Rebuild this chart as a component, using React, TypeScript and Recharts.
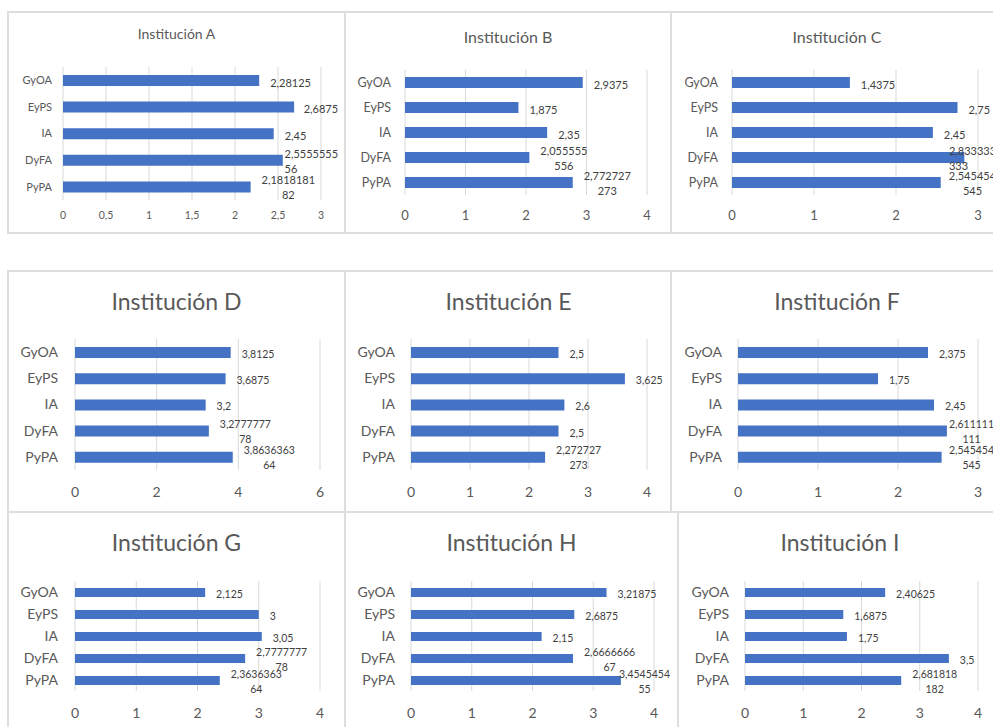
import React from 'react';
import { BarChart, Bar, XAxis, YAxis, CartesianGrid, LabelList } from 'recharts';

const categories = ['GyOA', 'EyPS', 'IA', 'DyFA', 'PyPA'];

const instA = [2.28125, 2.6875, 2.45, 2.555555556, 2.181818182];
const instB = [2.9375, 1.875, 2.35, 2.055555556, 2.772727273];
const instC = [1.4375, 2.75, 2.45, 2.833333333, 2.545454545];
const instD = [3.8125, 3.6875, 3.2, 3.277777778, 3.863636364];
const instE = [2.5, 3.625, 2.6, 2.5, 2.272727273];
const instF = [2.375, 1.75, 2.45, 2.611111111, 2.545454545];
const instG = [2.125, 3, 3.05, 2.777777778, 2.363636364];
const instH = [3.21875, 2.6875, 2.15, 2.666666667, 3.454545455];
const instI = [2.40625, 1.6875, 1.75, 3.5, 2.681818182];

const ticksHalf = [0, 0.5, 1, 1.5, 2, 2.5, 3];
const ticks3 = [0, 1, 2, 3];
const ticks4 = [0, 1, 2, 3, 4];
const ticks6 = [0, 2, 4, 6];

const BLUE = '#4472C4';
const GRID = '#d9d9d9';
const TEXT = '#595959';
const VALUE = '#404040';
const FONT = "Lato, 'Open Sans', sans-serif";

type Panel = {
  title: string;
  values: number[];
  ticks: number[];
  box: { x: number; y: number; w: number };
  plot: { left: number; right: number; top: number; bottom: number };
  titleY: number;
  tickY: number;
  fonts: { title: number; cat: number; tick: number; value: number };
  catGap: number;
  barSize: number;
  wrap: number;
  labelRight: number;
  startAligned?: number[];
};

const small = { title: 14, cat: 11, tick: 10.5, value: 11 };
const medium = { title: 16, cat: 12.5, tick: 13, value: 11 };
const large = { title: 23, cat: 14, tick: 14, value: 10.5 };

const panels: Panel[] = [
  { title: 'Institución A', values: instA, ticks: ticksHalf, box: { x: 8, y: 11, w: 337 }, plot: { left: 63, right: 321, top: 67, bottom: 200 }, titleY: 35, tickY: 215, fonts: small, catGap: 11, barSize: 11, wrap: 9, labelRight: 338, startAligned: [3] },
  { title: 'Institución B', values: instB, ticks: ticks4, box: { x: 345, y: 11, w: 326 }, plot: { left: 405, right: 647, top: 70, bottom: 195 }, titleY: 37, tickY: 215, fonts: medium, catGap: 14, barSize: 11, wrap: 8, labelRight: 668 },
  { title: 'Institución C', values: instC, ticks: ticks3, box: { x: 672, y: 11, w: 330 }, plot: { left: 732, right: 978, top: 70, bottom: 195 }, titleY: 37, tickY: 215, fonts: medium, catGap: 14, barSize: 11, wrap: 8, labelRight: 996, startAligned: [3] },
  { title: 'Institución D', values: instD, ticks: ticks6, box: { x: 8, y: 271, w: 337 }, plot: { left: 75, right: 320, top: 339, bottom: 470 }, titleY: 302, tickY: 492, fonts: large, catGap: 17, barSize: 11, wrap: 9, labelRight: 340 },
  { title: 'Institución E', values: instE, ticks: ticks4, box: { x: 345, y: 271, w: 327 }, plot: { left: 411, right: 647, top: 339, bottom: 470 }, titleY: 302, tickY: 492, fonts: large, catGap: 16, barSize: 11, wrap: 8, labelRight: 668 },
  { title: 'Institución F', values: instF, ticks: ticks3, box: { x: 672, y: 271, w: 330 }, plot: { left: 738, right: 978, top: 339, bottom: 470 }, titleY: 302, tickY: 492, fonts: large, catGap: 16, barSize: 11, wrap: 8, labelRight: 994 },
  { title: 'Institución G', values: instG, ticks: ticks4, box: { x: 8, y: 512, w: 337 }, plot: { left: 75, right: 320, top: 581, bottom: 691 }, titleY: 543, tickY: 713, fonts: large, catGap: 17, barSize: 9, wrap: 9, labelRight: 340 },
  { title: 'Institución H', values: instH, ticks: ticks4, box: { x: 345, y: 512, w: 333 }, plot: { left: 411, right: 654, top: 581, bottom: 691 }, titleY: 543, tickY: 713, fonts: large, catGap: 16, barSize: 9, wrap: 9, labelRight: 670 },
  { title: 'Institución I', values: instI, ticks: ticks4, box: { x: 678, y: 512, w: 324 }, plot: { left: 745, right: 978, top: 581, bottom: 691 }, titleY: 543, tickY: 713, fonts: large, catGap: 16, barSize: 9, wrap: 8, labelRight: 997 },
];

// panel frame lines: [left, top, width, height]
const frameLines: number[][] = [
  [8, 11, 994, 2], [8, 232, 994, 2], [8, 270, 994, 2], [8, 511, 994, 2],
  [7, 11, 2, 223], [344, 11, 2, 223], [670, 11, 2, 223],
  [7, 270, 2, 457], [344, 270, 2, 457], [670, 270, 2, 243], [677, 511, 2, 216],
];

const fmt = (v: number) => String(v).replace('.', ',');

// rough Lato advance widths: digits are tabular, the comma is narrow
const textWidth = (s: string, size: number) =>
  s.split('').reduce((sum, ch) => sum + (ch === ',' ? 0.22 : 0.58), 0) * size;

// value label beside the bar end; long numbers wrap onto a second line and
// the block is pushed back inside the chart area when it would run past it
const ValueLabel = (props: any) => {
  const { x, y, width, height, value, index, panel } = props;
  const text = fmt(Number(value));
  const lines = text.length > panel.wrap ? [text.slice(0, panel.wrap), text.slice(panel.wrap)] : [text];
  const size = panel.fonts.value;
  const w = textWidth(lines[0], size);
  const end = Number(x) + Number(width);
  const right = panel.labelRight - panel.box.x; // chart-local limit
  const left = Math.min(end + 11, right - w);
  const alignStart = (panel.startAligned || []).includes(index);
  const cy = Number(y) + Number(height) / 2;
  const offsets = lines.length === 1 ? [1.5] : [-7, 8];
  return (
    <g>
      {lines.map((l: string, i: number) => (
        <text
          key={i}
          x={alignStart ? left : left + w / 2}
          y={cy + offsets[i]}
          textAnchor={alignStart ? 'start' : 'middle'}
          dominantBaseline="central"
          fontSize={size}
          fill={VALUE}
        >
          {l}
        </text>
      ))}
    </g>
  );
};

const InstitutionChart = ({ panel }: { panel: Panel }) => {
  const { box, plot, fonts } = panel;
  const data = categories.map((name, i) => ({ name, value: panel.values[i] }));
  const xAxisH = 30;
  const height = plot.bottom - box.y + xAxisH + 4;
  const tickMargin = panel.tickY - plot.bottom - 0.355 * fonts.tick;
  return (
    <>
      <div
        style={{
          position: 'absolute',
          left: box.x,
          width: box.w,
          top: panel.titleY - fonts.title * 0.62,
          textAlign: 'center',
          fontSize: fonts.title,
          lineHeight: `${fonts.title * 1.2}px`,
          color: TEXT,
        }}
      >
        {panel.title}
      </div>
      <div style={{ position: 'absolute', left: box.x, top: box.y }}>
        <BarChart
          width={box.w}
          height={height}
          data={data}
          layout="vertical"
          margin={{ top: plot.top - box.y, right: box.x + box.w - plot.right, bottom: 4, left: 0 }}
          style={{ overflow: 'visible' }}
        >
          <CartesianGrid horizontal={false} stroke={GRID} />
          <XAxis
            type="number"
            domain={[0, panel.ticks[panel.ticks.length - 1]]}
            ticks={panel.ticks}
            interval={0}
            height={xAxisH}
            axisLine={false}
            tickLine={false}
            tickSize={0}
            tickMargin={tickMargin}
            tickFormatter={(v) => fmt(v)}
            tick={{ fill: TEXT, fontSize: fonts.tick }}
          />
          <YAxis
            type="category"
            dataKey="name"
            width={plot.left - box.x}
            axisLine={false}
            tickLine={false}
            tickSize={0}
            tickMargin={panel.catGap}
            interval={0}
            tick={{ fill: TEXT, fontSize: fonts.cat }}
          />
          <Bar dataKey="value" fill={BLUE} barSize={panel.barSize} isAnimationActive={false}>
            <LabelList dataKey="value" content={(p: any) => <ValueLabel {...p} panel={panel} />} />
          </Bar>
        </BarChart>
      </div>
    </>
  );
};

export default function App() {
  return (
    <div
      style={{
        position: 'absolute',
        left: 0,
        top: 0,
        width: 993,
        height: 727,
        overflow: 'hidden',
        background: '#fff',
        fontFamily: FONT,
      }}
    >
      {frameLines.map(([l, t, w, h], i) => (
        <div key={i} style={{ position: 'absolute', left: l, top: t, width: w, height: h, background: '#dedede' }} />
      ))}
      {panels.map((p) => (
        <InstitutionChart key={p.title} panel={p} />
      ))}
    </div>
  );
}
